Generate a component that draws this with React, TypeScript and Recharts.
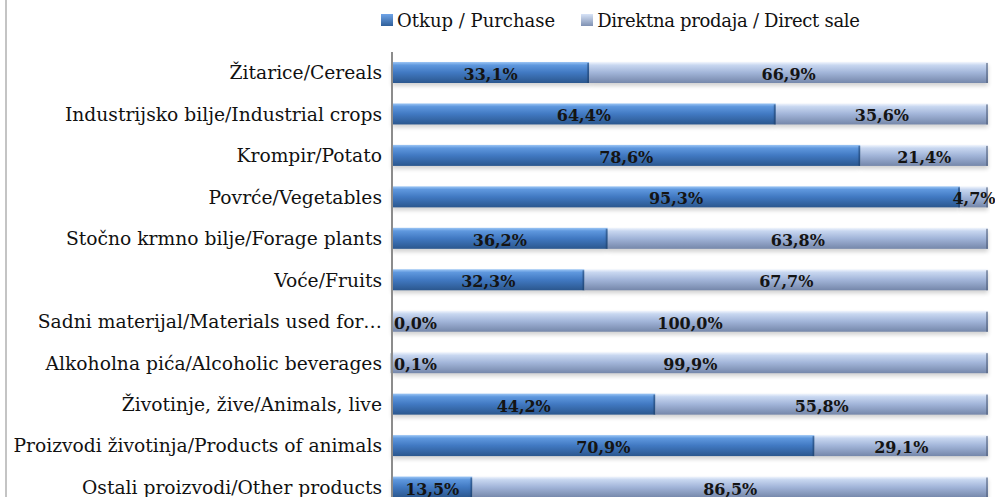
import React from 'react';
import { BarChart, Bar, XAxis, YAxis, LabelList } from 'recharts';

const categories = [
  'Žitarice/Cereals',
  'Industrijsko bilje/Industrial crops',
  'Krompir/Potato',
  'Povrće/Vegetables',
  'Stočno krmno bilje/Forage plants',
  'Voće/Fruits',
  'Sadni materijal/Materials used for…',
  'Alkoholna pića/Alcoholic beverages',
  'Životinje, žive/Animals, live',
  'Proizvodi životinja/Products of animals',
  'Ostali proizvodi/Other products',
];
const purchase = [33.1, 64.4, 78.6, 95.3, 36.2, 32.3, 0.0, 0.1, 44.2, 70.9, 13.5];
const directSale = [66.9, 35.6, 21.4, 4.7, 63.8, 67.7, 100.0, 99.9, 55.8, 29.1, 86.5];
const seriesNames = ['Otkup / Purchase', 'Direktna prodaja / Direct sale'];

const data = categories.map((c, i) => ({ name: c, purchase: purchase[i], direct: directSale[i] }));

const FONT = '"DejaVu Serif", serif';
const fmt = (v: any) => Number(v).toFixed(1).replace('.', ',') + '%';
const labelStyle = { fontFamily: FONT, fontSize: 16, fontWeight: 'bold' as const, fill: '#141414' };

const makeShape = (grad: string, edge: string) => (props: any) => {
  const { x, y, width, height } = props;
  if (!(width > 0) || !(height > 0)) return <g />;
  return (
    <g>
      <rect x={x} y={y + 3} width={width} height={height} fill="#000" opacity={0.18} filter="url(#blurSh)" />
      <rect x={x} y={y} width={width} height={height} fill={`url(#${grad})`} />
      <rect x={x + width - 2} y={y + 1} width={2} height={height - 1} fill={edge} opacity={0.55} />
    </g>
  );
};

const PLOT_LEFT = 392;

const purchaseLabel = (props: any) => {
  const { x, y, width, height, value } = props;
  if (value == null || !(Number(value) > 0)) return null;
  const cx = x + width / 2;
  const approx = 54;
  if (cx - approx / 2 < PLOT_LEFT + 2) {
    return <text x={PLOT_LEFT + 2} y={y + height / 2 + 2} textAnchor="start" dominantBaseline="central" style={labelStyle}>{fmt(value)}</text>;
  }
  return <text x={cx} y={y + height / 2 + 2} textAnchor="middle" dominantBaseline="central" style={labelStyle}>{fmt(value)}</text>;
};

const directLabel = (props: any) => {
  const { x, y, width, height, value, index } = props;
  const out: any[] = [];
  if (purchase[index] === 0) {
    out.push(<text key="z" x={PLOT_LEFT + 2} y={y + height / 2 + 2} textAnchor="start" dominantBaseline="central" style={labelStyle}>{fmt(purchase[index])}</text>);
  }
  out.push(<text key="v" x={x + width / 2} y={y + height / 2 + 2} textAnchor="middle" dominantBaseline="central" style={labelStyle}>{fmt(value)}</text>);
  return <g>{out}</g>;
};

export default function App() {
  return (
    <div style={{ position: 'absolute', left: 0, top: 0, width: 995, height: 497, overflow: 'hidden', background: '#fff' }}>
      <svg width={0} height={0} style={{ position: 'absolute' }}>
        <defs>
          <linearGradient id="gPurchase" x1="0" y1="0" x2="0" y2="1">
            <stop offset="0" stopColor="#9cc6f5" />
            <stop offset="0.15" stopColor="#5f98de" />
            <stop offset="0.5" stopColor="#4179c2" />
            <stop offset="1" stopColor="#2b578e" />
          </linearGradient>
          <linearGradient id="gDirect" x1="0" y1="0" x2="0" y2="1">
            <stop offset="0" stopColor="#f2f6fd" />
            <stop offset="0.15" stopColor="#c8d7f0" />
            <stop offset="0.5" stopColor="#a2b5d9" />
            <stop offset="1" stopColor="#7587aa" />
          </linearGradient>
          <filter id="blurSh" x="-5%" y="-50%" width="110%" height="200%">
            <feGaussianBlur stdDeviation="2" />
          </filter>
        </defs>
      </svg>
      <div style={{ position: 'absolute', left: 5, top: 0, width: 2, height: 497, background: '#c4c4c4' }} />
      <div style={{ position: 'absolute', left: 381, top: 8, height: 24, display: 'flex', alignItems: 'center', fontFamily: FONT, fontSize: 18, color: '#111', whiteSpace: 'nowrap' }}>
        <span style={{ width: 12, height: 12, background: 'linear-gradient(#6fa4e8,#2f5f9a)', marginRight: 4, display: 'inline-block' }} />
        <span style={{ marginRight: 26 }}>{seriesNames[0]}</span>
        <span style={{ width: 12, height: 12, background: 'linear-gradient(#d7e3f7,#7f91b3)', marginRight: 4, display: 'inline-block' }} />
        <span style={{ letterSpacing: -0.3 }}>{seriesNames[1]}</span>
      </div>
      <div style={{ position: 'absolute', left: 0, top: 0 }}>
        <BarChart
          width={995}
          height={512}
          data={data}
          layout="vertical"
          margin={{ top: 52, right: 7, bottom: 4, left: 0 }}
          barSize={21}
        >
          <XAxis type="number" domain={[0, 100]} hide />
          <YAxis
            type="category"
            dataKey="name"
            width={392}
            tickLine={false}
            tickSize={8}
            tickMargin={2}
            axisLine={{ stroke: '#8c8c8c', strokeWidth: 2 }}
            tick={{ fontFamily: FONT, fontSize: 18.7, fill: '#111' }}
            interval={0}
          />
          <Bar dataKey="purchase" stackId="a" name={seriesNames[0]} isAnimationActive={false} fill="#4179c2" shape={makeShape('gPurchase', '#1f4472')}>
            <LabelList dataKey="purchase" content={purchaseLabel} />
          </Bar>
          <Bar dataKey="direct" stackId="a" name={seriesNames[1]} isAnimationActive={false} fill="#a2b5d9" shape={makeShape('gDirect', '#4e5d78')}>
            <LabelList dataKey="direct" content={directLabel} />
          </Bar>
        </BarChart>
      </div>
    </div>
  );
}
